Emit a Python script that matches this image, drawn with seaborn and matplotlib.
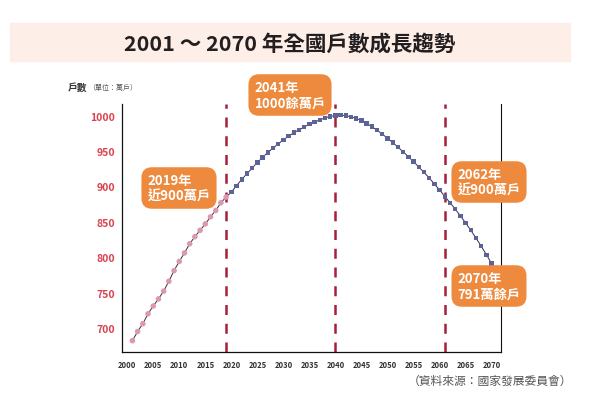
import matplotlib
matplotlib.use("Agg")
import matplotlib.pyplot as plt
import seaborn as sns
import pandas as pd

# actual households 2001-2019 (10k households)
years_actual = list(range(2001, 2020))
values_actual = [682, 695, 706, 720, 731, 741, 752, 766, 781, 794,
                 806, 819, 829, 838, 847, 857, 866, 877, 885]

# projected households 2020-2070
years_proj = list(range(2020, 2071))
values_proj = [892, 901, 910, 918, 926, 934, 941, 948, 954, 960,
               966, 971, 976, 980, 984, 988, 991, 994, 997, 999,
               1000, 1001, 1000, 998.5, 996, 993, 989, 984.5, 979.5, 974,
               968, 962, 955.5, 949, 942, 935, 927.5, 920, 912, 903.5,
               895, 886, 877, 868, 858.5, 848.5, 838, 827, 815.5, 803.5, 791]

marker_years = [2019, 2040, 2061]
yticks = [700, 750, 800, 850, 900, 950, 1000]
xlabel_years = list(range(2000, 2071, 5))

notes = ["2019年\n近900萬戶", "2041年\n1000餘萬戶", "2062年\n近900萬戶", "2070年\n791萬餘戶"]

df = pd.DataFrame({
    "year": years_actual + years_proj,
    "value": values_actual + values_proj,
    "kind": ["actual"] * len(years_actual) + ["proj"] * len(years_proj),
})

sns.set_theme(style="white")
plt.rcParams["font.family"] = ["Noto Sans CJK TC", "DejaVu Sans"]

W, H = 603, 406
fig = plt.figure(figsize=(W / 100, H / 100), dpi=100)
ax = fig.add_axes([122 / W, 1 - 353 / H, (501 - 122) / W, (353 - 105) / H])

pink = "#dc98ac"
blue = "#5d6399"

sns.lineplot(data=df, x="year", y="value", color="#333333", lw=0.7, ax=ax, zorder=2)
sns.scatterplot(data=df[df.kind == "actual"], x="year", y="value", color=pink,
                marker="o", s=16, edgecolor="none", ax=ax, zorder=3)
sns.scatterplot(data=df[df.kind == "proj"], x="year", y="value", color=blue,
                marker="s", s=10, edgecolor="none", ax=ax, zorder=3)

for yr in marker_years:
    ax.axvline(yr, color="#a61f3b", lw=1.8, dashes=(4, 3.5), zorder=1)

ax.set_xlim(1999.0, 2071.8)
ax.set_ylim(666, 1016.5)
ax.set_xticks(range(2000, 2071))
ax.set_xticklabels([str(y) if y in xlabel_years else "" for y in range(2000, 2071)],
                   fontsize=5.5, fontweight="bold", color="#333333")
ax.set_yticks(yticks)
ax.set_yticklabels([str(v) for v in yticks], fontsize=7.5, fontweight="bold", color="#d9434f")
ax.tick_params(axis="both", direction="out", length=4, width=0.8, color="#222222", pad=1)
ax.tick_params(axis="x", length=4, pad=2)
ax.set_xlabel("")
ax.set_ylabel("")
ax.grid(False)
for side in ["left", "bottom", "right"]:
    ax.spines[side].set_color("#111111")
    ax.spines[side].set_linewidth(0.9)
ax.spines["top"].set_visible(False)
ax.spines["right"].set_linewidth(0.8)

# title band
fig.patches.append(plt.Rectangle((10 / W, 1 - 62 / H), 560 / W, 38 / H,
                                 transform=fig.transFigure, color="#fdeee7", zorder=0))
fig.text(290 / W, 1 - 44 / H, "2001 ～ 2070 年全國戶數成長趨勢", ha="center", va="center",
         fontsize=15.5, fontweight="bold", color="#231f20")

fig.text(68 / W, 1 - 88 / H, "戶數", ha="left", va="center", fontsize=7,
         fontweight="bold", color="#333333")
fig.text(88 / W, 1 - 88 / H, "（單位：萬戶）", ha="left", va="center", fontsize=5,
         color="#555555")

fig.text(490 / W, 1 - 381 / H, "（資料來源：國家發展委員會）", ha="center", va="center",
         fontsize=8.5, color="#555555")

box_centers = [(179, 189), (290, 96), (489, 183), (489, 287)]
for (cx, cy), txt in zip(box_centers, notes):
    fig.text(cx / W, 1 - cy / H, txt, ha="center", va="center", multialignment="left",
             fontsize=9.5, fontweight="bold", color="white", linespacing=1.15,
             bbox=dict(boxstyle="round,pad=0.45,rounding_size=0.8", fc="#ee8a3e", ec="none"),
             zorder=5)

fig.savefig("out.png", dpi=100)
